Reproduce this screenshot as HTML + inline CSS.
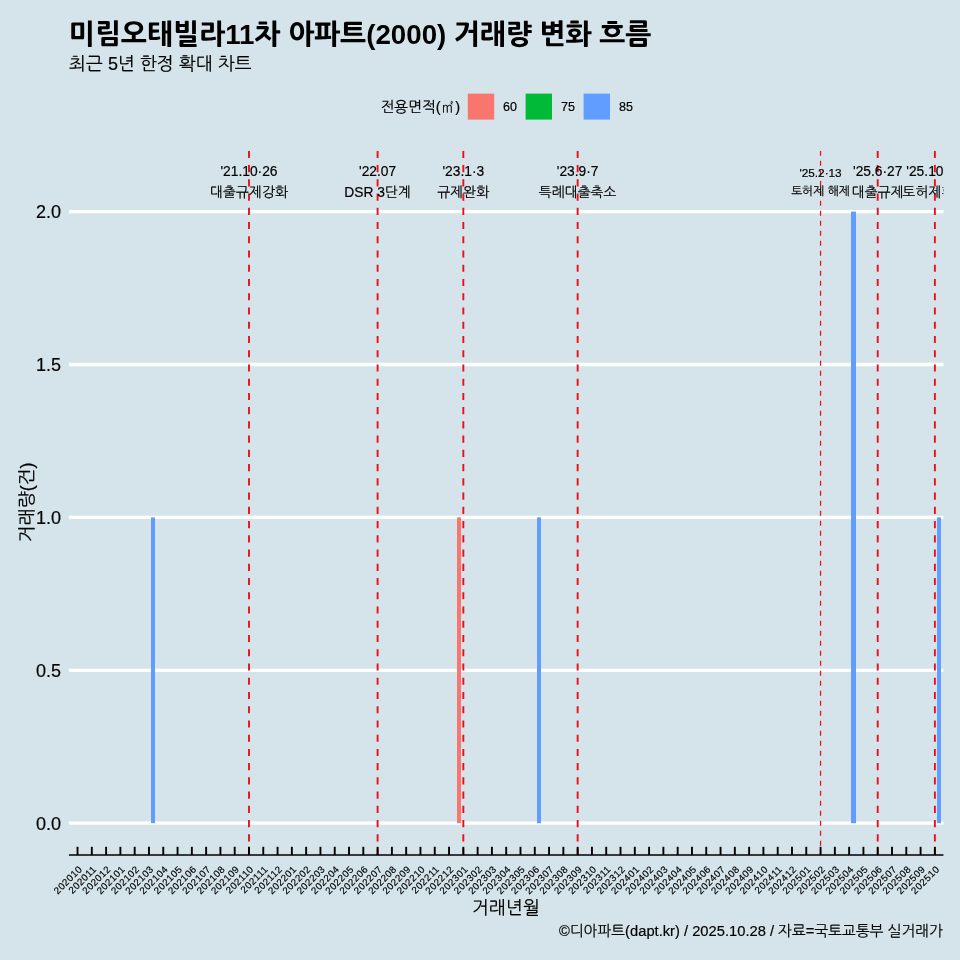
<!DOCTYPE html>
<html lang="ko"><head><meta charset="utf-8"><title>미림오태빌라11차 아파트(2000) 거래량 변화 흐름</title>
<style>html,body{margin:0;padding:0;background:#D5E4EB;}body{width:960px;height:960px;overflow:hidden;}svg{display:block;font-family:'Liberation Sans', 'NanumGothic', sans-serif;}text{fill:#000;stroke:#000;stroke-width:0.18px;}.t{stroke:none;}</style>
</head><body>
<svg width="960" height="960" viewBox="0 0 960 960">
<rect x="0" y="0" width="960" height="960" fill="#D5E4EB"/>
<defs><clipPath id="panel"><rect x="68.95" y="150.80" width="874.50" height="704.20"/></clipPath></defs>
<text x="69" y="44" font-size="27.7" font-weight="800" class="t">미림오태빌라11차 아파트(2000) 거래량 변화 흐름</text>
<text x="69" y="69.5" font-size="18.05">최근 5년 한정 확대 차트</text>
<text x="380.5" y="111.8" font-size="14.7">전용면적(<tspan font-family="NanumGothicCoding, NanumGothic, 'Noto Sans CJK KR', sans-serif">㎡</tspan>)</text>
<rect x="467.8" y="93.6" width="26.4" height="26" fill="#F8766D"/>
<text x="503.0" y="111.3" font-size="12.5">60</text>
<rect x="525.6" y="93.6" width="26.4" height="26" fill="#00BA38"/>
<text x="561.0" y="111.3" font-size="12.5">75</text>
<rect x="583.6" y="93.6" width="26.4" height="26" fill="#619CFF"/>
<text x="619.0" y="111.3" font-size="12.5">85</text>
<line x1="68.95" x2="943.45" y1="823.20" y2="823.20" stroke="#fff" stroke-width="3.3"/>
<text x="61" y="829.70" font-size="18.05" text-anchor="end">0.0</text>
<line x1="68.95" x2="943.45" y1="670.30" y2="670.30" stroke="#fff" stroke-width="3.3"/>
<text x="61" y="676.80" font-size="18.05" text-anchor="end">0.5</text>
<line x1="68.95" x2="943.45" y1="517.40" y2="517.40" stroke="#fff" stroke-width="3.3"/>
<text x="61" y="523.90" font-size="18.05" text-anchor="end">1.0</text>
<line x1="68.95" x2="943.45" y1="364.50" y2="364.50" stroke="#fff" stroke-width="3.3"/>
<text x="61" y="371.00" font-size="18.05" text-anchor="end">1.5</text>
<line x1="68.95" x2="943.45" y1="211.60" y2="211.60" stroke="#fff" stroke-width="3.3"/>
<text x="61" y="218.10" font-size="18.05" text-anchor="end">2.0</text>
<rect x="151.00" y="517.40" width="4.00" height="305.80" fill="#619CFF"/>
<rect x="457.00" y="517.40" width="4.00" height="305.80" fill="#F8766D"/>
<rect x="537.00" y="517.40" width="4.00" height="305.80" fill="#619CFF"/>
<rect x="851.00" y="211.60" width="5.00" height="611.60" fill="#619CFF"/>
<rect x="937.00" y="517.40" width="4.00" height="305.80" fill="#619CFF"/>
<g clip-path="url(#panel)">
<line x1="248.99" x2="248.99" y1="150.80" y2="855.00" stroke="#F20D14" stroke-width="1.9" stroke-dasharray="7.12 7.12"/>
<text x="248.99" y="176" font-size="13.8" text-anchor="middle">'21.10·26</text>
<text x="248.99" y="197" font-size="13.8" text-anchor="middle">대출규제강화</text>
<line x1="377.60" x2="377.60" y1="150.80" y2="855.00" stroke="#F20D14" stroke-width="1.9" stroke-dasharray="7.12 7.12"/>
<text x="377.60" y="176" font-size="13.8" text-anchor="middle">'22.07</text>
<text x="377.60" y="197" font-size="13.8" text-anchor="middle">DSR 3단계</text>
<line x1="463.33" x2="463.33" y1="150.80" y2="855.00" stroke="#F20D14" stroke-width="1.9" stroke-dasharray="7.12 7.12"/>
<text x="463.33" y="176" font-size="13.8" text-anchor="middle">'23.1·3</text>
<text x="463.33" y="197" font-size="13.8" text-anchor="middle">규제완화</text>
<line x1="577.65" x2="577.65" y1="150.80" y2="855.00" stroke="#F20D14" stroke-width="1.9" stroke-dasharray="7.12 7.12"/>
<text x="577.65" y="176" font-size="13.8" text-anchor="middle">'23.9·7</text>
<text x="577.65" y="197" font-size="13.8" text-anchor="middle">특례대출축소</text>
<line x1="820.56" x2="820.56" y1="150.80" y2="855.00" stroke="#F20D14" stroke-width="1.25" stroke-dasharray="5 5"/>
<text x="820.56" y="177.2" font-size="11.8" text-anchor="middle">'25.2·13</text>
<text x="820.56" y="194.7" font-size="11.8" text-anchor="middle">토허제 해제</text>
<line x1="877.72" x2="877.72" y1="150.80" y2="855.00" stroke="#F20D14" stroke-width="1.9" stroke-dasharray="7.12 7.12"/>
<text x="877.72" y="176" font-size="13.8" text-anchor="middle">'25.6·27</text>
<text x="877.72" y="197" font-size="13.8" text-anchor="middle">대출규제</text>
<line x1="934.88" x2="934.88" y1="150.80" y2="855.00" stroke="#F20D14" stroke-width="1.9" stroke-dasharray="7.12 7.12"/>
<text x="934.88" y="176" font-size="13.8" text-anchor="middle">'25.10·15</text>
<text x="934.88" y="197" font-size="13.8" text-anchor="middle">토허제확대</text>
</g>
<line x1="68.95" x2="943.45" y1="855" y2="855" stroke="#000" stroke-width="1.6"/>
<line x1="77.52" x2="77.52" y1="846.8" y2="855" stroke="#000" stroke-width="1.9"/>
<text transform="translate(82.82,869.7) rotate(-45)" font-size="9.72" letter-spacing="0.5" text-anchor="end" stroke="#000" stroke-width="0.25">202010</text>
<line x1="91.81" x2="91.81" y1="846.8" y2="855" stroke="#000" stroke-width="1.9"/>
<text transform="translate(97.11,869.7) rotate(-45)" font-size="9.72" letter-spacing="0.5" text-anchor="end" stroke="#000" stroke-width="0.25">202011</text>
<line x1="106.10" x2="106.10" y1="846.8" y2="855" stroke="#000" stroke-width="1.9"/>
<text transform="translate(111.40,869.7) rotate(-45)" font-size="9.72" letter-spacing="0.5" text-anchor="end" stroke="#000" stroke-width="0.25">202012</text>
<line x1="120.39" x2="120.39" y1="846.8" y2="855" stroke="#000" stroke-width="1.9"/>
<text transform="translate(125.69,869.7) rotate(-45)" font-size="9.72" letter-spacing="0.5" text-anchor="end" stroke="#000" stroke-width="0.25">202101</text>
<line x1="134.68" x2="134.68" y1="846.8" y2="855" stroke="#000" stroke-width="1.9"/>
<text transform="translate(139.98,869.7) rotate(-45)" font-size="9.72" letter-spacing="0.5" text-anchor="end" stroke="#000" stroke-width="0.25">202102</text>
<line x1="148.97" x2="148.97" y1="846.8" y2="855" stroke="#000" stroke-width="1.9"/>
<text transform="translate(154.27,869.7) rotate(-45)" font-size="9.72" letter-spacing="0.5" text-anchor="end" stroke="#000" stroke-width="0.25">202103</text>
<line x1="163.26" x2="163.26" y1="846.8" y2="855" stroke="#000" stroke-width="1.9"/>
<text transform="translate(168.56,869.7) rotate(-45)" font-size="9.72" letter-spacing="0.5" text-anchor="end" stroke="#000" stroke-width="0.25">202104</text>
<line x1="177.55" x2="177.55" y1="846.8" y2="855" stroke="#000" stroke-width="1.9"/>
<text transform="translate(182.85,869.7) rotate(-45)" font-size="9.72" letter-spacing="0.5" text-anchor="end" stroke="#000" stroke-width="0.25">202105</text>
<line x1="191.84" x2="191.84" y1="846.8" y2="855" stroke="#000" stroke-width="1.9"/>
<text transform="translate(197.14,869.7) rotate(-45)" font-size="9.72" letter-spacing="0.5" text-anchor="end" stroke="#000" stroke-width="0.25">202106</text>
<line x1="206.13" x2="206.13" y1="846.8" y2="855" stroke="#000" stroke-width="1.9"/>
<text transform="translate(211.43,869.7) rotate(-45)" font-size="9.72" letter-spacing="0.5" text-anchor="end" stroke="#000" stroke-width="0.25">202107</text>
<line x1="220.42" x2="220.42" y1="846.8" y2="855" stroke="#000" stroke-width="1.9"/>
<text transform="translate(225.72,869.7) rotate(-45)" font-size="9.72" letter-spacing="0.5" text-anchor="end" stroke="#000" stroke-width="0.25">202108</text>
<line x1="234.70" x2="234.70" y1="846.8" y2="855" stroke="#000" stroke-width="1.9"/>
<text transform="translate(240.00,869.7) rotate(-45)" font-size="9.72" letter-spacing="0.5" text-anchor="end" stroke="#000" stroke-width="0.25">202109</text>
<line x1="248.99" x2="248.99" y1="846.8" y2="855" stroke="#000" stroke-width="1.9"/>
<text transform="translate(254.29,869.7) rotate(-45)" font-size="9.72" letter-spacing="0.5" text-anchor="end" stroke="#000" stroke-width="0.25">202110</text>
<line x1="263.28" x2="263.28" y1="846.8" y2="855" stroke="#000" stroke-width="1.9"/>
<text transform="translate(268.58,869.7) rotate(-45)" font-size="9.72" letter-spacing="0.5" text-anchor="end" stroke="#000" stroke-width="0.25">202111</text>
<line x1="277.57" x2="277.57" y1="846.8" y2="855" stroke="#000" stroke-width="1.9"/>
<text transform="translate(282.87,869.7) rotate(-45)" font-size="9.72" letter-spacing="0.5" text-anchor="end" stroke="#000" stroke-width="0.25">202112</text>
<line x1="291.86" x2="291.86" y1="846.8" y2="855" stroke="#000" stroke-width="1.9"/>
<text transform="translate(297.16,869.7) rotate(-45)" font-size="9.72" letter-spacing="0.5" text-anchor="end" stroke="#000" stroke-width="0.25">202201</text>
<line x1="306.15" x2="306.15" y1="846.8" y2="855" stroke="#000" stroke-width="1.9"/>
<text transform="translate(311.45,869.7) rotate(-45)" font-size="9.72" letter-spacing="0.5" text-anchor="end" stroke="#000" stroke-width="0.25">202202</text>
<line x1="320.44" x2="320.44" y1="846.8" y2="855" stroke="#000" stroke-width="1.9"/>
<text transform="translate(325.74,869.7) rotate(-45)" font-size="9.72" letter-spacing="0.5" text-anchor="end" stroke="#000" stroke-width="0.25">202203</text>
<line x1="334.73" x2="334.73" y1="846.8" y2="855" stroke="#000" stroke-width="1.9"/>
<text transform="translate(340.03,869.7) rotate(-45)" font-size="9.72" letter-spacing="0.5" text-anchor="end" stroke="#000" stroke-width="0.25">202204</text>
<line x1="349.02" x2="349.02" y1="846.8" y2="855" stroke="#000" stroke-width="1.9"/>
<text transform="translate(354.32,869.7) rotate(-45)" font-size="9.72" letter-spacing="0.5" text-anchor="end" stroke="#000" stroke-width="0.25">202205</text>
<line x1="363.31" x2="363.31" y1="846.8" y2="855" stroke="#000" stroke-width="1.9"/>
<text transform="translate(368.61,869.7) rotate(-45)" font-size="9.72" letter-spacing="0.5" text-anchor="end" stroke="#000" stroke-width="0.25">202206</text>
<line x1="377.60" x2="377.60" y1="846.8" y2="855" stroke="#000" stroke-width="1.9"/>
<text transform="translate(382.90,869.7) rotate(-45)" font-size="9.72" letter-spacing="0.5" text-anchor="end" stroke="#000" stroke-width="0.25">202207</text>
<line x1="391.89" x2="391.89" y1="846.8" y2="855" stroke="#000" stroke-width="1.9"/>
<text transform="translate(397.19,869.7) rotate(-45)" font-size="9.72" letter-spacing="0.5" text-anchor="end" stroke="#000" stroke-width="0.25">202208</text>
<line x1="406.18" x2="406.18" y1="846.8" y2="855" stroke="#000" stroke-width="1.9"/>
<text transform="translate(411.48,869.7) rotate(-45)" font-size="9.72" letter-spacing="0.5" text-anchor="end" stroke="#000" stroke-width="0.25">202209</text>
<line x1="420.46" x2="420.46" y1="846.8" y2="855" stroke="#000" stroke-width="1.9"/>
<text transform="translate(425.76,869.7) rotate(-45)" font-size="9.72" letter-spacing="0.5" text-anchor="end" stroke="#000" stroke-width="0.25">202210</text>
<line x1="434.75" x2="434.75" y1="846.8" y2="855" stroke="#000" stroke-width="1.9"/>
<text transform="translate(440.05,869.7) rotate(-45)" font-size="9.72" letter-spacing="0.5" text-anchor="end" stroke="#000" stroke-width="0.25">202211</text>
<line x1="449.04" x2="449.04" y1="846.8" y2="855" stroke="#000" stroke-width="1.9"/>
<text transform="translate(454.34,869.7) rotate(-45)" font-size="9.72" letter-spacing="0.5" text-anchor="end" stroke="#000" stroke-width="0.25">202212</text>
<line x1="463.33" x2="463.33" y1="846.8" y2="855" stroke="#000" stroke-width="1.9"/>
<text transform="translate(468.63,869.7) rotate(-45)" font-size="9.72" letter-spacing="0.5" text-anchor="end" stroke="#000" stroke-width="0.25">202301</text>
<line x1="477.62" x2="477.62" y1="846.8" y2="855" stroke="#000" stroke-width="1.9"/>
<text transform="translate(482.92,869.7) rotate(-45)" font-size="9.72" letter-spacing="0.5" text-anchor="end" stroke="#000" stroke-width="0.25">202302</text>
<line x1="491.91" x2="491.91" y1="846.8" y2="855" stroke="#000" stroke-width="1.9"/>
<text transform="translate(497.21,869.7) rotate(-45)" font-size="9.72" letter-spacing="0.5" text-anchor="end" stroke="#000" stroke-width="0.25">202303</text>
<line x1="506.20" x2="506.20" y1="846.8" y2="855" stroke="#000" stroke-width="1.9"/>
<text transform="translate(511.50,869.7) rotate(-45)" font-size="9.72" letter-spacing="0.5" text-anchor="end" stroke="#000" stroke-width="0.25">202304</text>
<line x1="520.49" x2="520.49" y1="846.8" y2="855" stroke="#000" stroke-width="1.9"/>
<text transform="translate(525.79,869.7) rotate(-45)" font-size="9.72" letter-spacing="0.5" text-anchor="end" stroke="#000" stroke-width="0.25">202305</text>
<line x1="534.78" x2="534.78" y1="846.8" y2="855" stroke="#000" stroke-width="1.9"/>
<text transform="translate(540.08,869.7) rotate(-45)" font-size="9.72" letter-spacing="0.5" text-anchor="end" stroke="#000" stroke-width="0.25">202306</text>
<line x1="549.07" x2="549.07" y1="846.8" y2="855" stroke="#000" stroke-width="1.9"/>
<text transform="translate(554.37,869.7) rotate(-45)" font-size="9.72" letter-spacing="0.5" text-anchor="end" stroke="#000" stroke-width="0.25">202307</text>
<line x1="563.36" x2="563.36" y1="846.8" y2="855" stroke="#000" stroke-width="1.9"/>
<text transform="translate(568.66,869.7) rotate(-45)" font-size="9.72" letter-spacing="0.5" text-anchor="end" stroke="#000" stroke-width="0.25">202308</text>
<line x1="577.65" x2="577.65" y1="846.8" y2="855" stroke="#000" stroke-width="1.9"/>
<text transform="translate(582.95,869.7) rotate(-45)" font-size="9.72" letter-spacing="0.5" text-anchor="end" stroke="#000" stroke-width="0.25">202309</text>
<line x1="591.94" x2="591.94" y1="846.8" y2="855" stroke="#000" stroke-width="1.9"/>
<text transform="translate(597.24,869.7) rotate(-45)" font-size="9.72" letter-spacing="0.5" text-anchor="end" stroke="#000" stroke-width="0.25">202310</text>
<line x1="606.22" x2="606.22" y1="846.8" y2="855" stroke="#000" stroke-width="1.9"/>
<text transform="translate(611.52,869.7) rotate(-45)" font-size="9.72" letter-spacing="0.5" text-anchor="end" stroke="#000" stroke-width="0.25">202311</text>
<line x1="620.51" x2="620.51" y1="846.8" y2="855" stroke="#000" stroke-width="1.9"/>
<text transform="translate(625.81,869.7) rotate(-45)" font-size="9.72" letter-spacing="0.5" text-anchor="end" stroke="#000" stroke-width="0.25">202312</text>
<line x1="634.80" x2="634.80" y1="846.8" y2="855" stroke="#000" stroke-width="1.9"/>
<text transform="translate(640.10,869.7) rotate(-45)" font-size="9.72" letter-spacing="0.5" text-anchor="end" stroke="#000" stroke-width="0.25">202401</text>
<line x1="649.09" x2="649.09" y1="846.8" y2="855" stroke="#000" stroke-width="1.9"/>
<text transform="translate(654.39,869.7) rotate(-45)" font-size="9.72" letter-spacing="0.5" text-anchor="end" stroke="#000" stroke-width="0.25">202402</text>
<line x1="663.38" x2="663.38" y1="846.8" y2="855" stroke="#000" stroke-width="1.9"/>
<text transform="translate(668.68,869.7) rotate(-45)" font-size="9.72" letter-spacing="0.5" text-anchor="end" stroke="#000" stroke-width="0.25">202403</text>
<line x1="677.67" x2="677.67" y1="846.8" y2="855" stroke="#000" stroke-width="1.9"/>
<text transform="translate(682.97,869.7) rotate(-45)" font-size="9.72" letter-spacing="0.5" text-anchor="end" stroke="#000" stroke-width="0.25">202404</text>
<line x1="691.96" x2="691.96" y1="846.8" y2="855" stroke="#000" stroke-width="1.9"/>
<text transform="translate(697.26,869.7) rotate(-45)" font-size="9.72" letter-spacing="0.5" text-anchor="end" stroke="#000" stroke-width="0.25">202405</text>
<line x1="706.25" x2="706.25" y1="846.8" y2="855" stroke="#000" stroke-width="1.9"/>
<text transform="translate(711.55,869.7) rotate(-45)" font-size="9.72" letter-spacing="0.5" text-anchor="end" stroke="#000" stroke-width="0.25">202406</text>
<line x1="720.54" x2="720.54" y1="846.8" y2="855" stroke="#000" stroke-width="1.9"/>
<text transform="translate(725.84,869.7) rotate(-45)" font-size="9.72" letter-spacing="0.5" text-anchor="end" stroke="#000" stroke-width="0.25">202407</text>
<line x1="734.83" x2="734.83" y1="846.8" y2="855" stroke="#000" stroke-width="1.9"/>
<text transform="translate(740.13,869.7) rotate(-45)" font-size="9.72" letter-spacing="0.5" text-anchor="end" stroke="#000" stroke-width="0.25">202408</text>
<line x1="749.12" x2="749.12" y1="846.8" y2="855" stroke="#000" stroke-width="1.9"/>
<text transform="translate(754.42,869.7) rotate(-45)" font-size="9.72" letter-spacing="0.5" text-anchor="end" stroke="#000" stroke-width="0.25">202409</text>
<line x1="763.41" x2="763.41" y1="846.8" y2="855" stroke="#000" stroke-width="1.9"/>
<text transform="translate(768.71,869.7) rotate(-45)" font-size="9.72" letter-spacing="0.5" text-anchor="end" stroke="#000" stroke-width="0.25">202410</text>
<line x1="777.70" x2="777.70" y1="846.8" y2="855" stroke="#000" stroke-width="1.9"/>
<text transform="translate(783.00,869.7) rotate(-45)" font-size="9.72" letter-spacing="0.5" text-anchor="end" stroke="#000" stroke-width="0.25">202411</text>
<line x1="791.98" x2="791.98" y1="846.8" y2="855" stroke="#000" stroke-width="1.9"/>
<text transform="translate(797.28,869.7) rotate(-45)" font-size="9.72" letter-spacing="0.5" text-anchor="end" stroke="#000" stroke-width="0.25">202412</text>
<line x1="806.27" x2="806.27" y1="846.8" y2="855" stroke="#000" stroke-width="1.9"/>
<text transform="translate(811.57,869.7) rotate(-45)" font-size="9.72" letter-spacing="0.5" text-anchor="end" stroke="#000" stroke-width="0.25">202501</text>
<line x1="820.56" x2="820.56" y1="846.8" y2="855" stroke="#000" stroke-width="1.9"/>
<text transform="translate(825.86,869.7) rotate(-45)" font-size="9.72" letter-spacing="0.5" text-anchor="end" stroke="#000" stroke-width="0.25">202502</text>
<line x1="834.85" x2="834.85" y1="846.8" y2="855" stroke="#000" stroke-width="1.9"/>
<text transform="translate(840.15,869.7) rotate(-45)" font-size="9.72" letter-spacing="0.5" text-anchor="end" stroke="#000" stroke-width="0.25">202503</text>
<line x1="849.14" x2="849.14" y1="846.8" y2="855" stroke="#000" stroke-width="1.9"/>
<text transform="translate(854.44,869.7) rotate(-45)" font-size="9.72" letter-spacing="0.5" text-anchor="end" stroke="#000" stroke-width="0.25">202504</text>
<line x1="863.43" x2="863.43" y1="846.8" y2="855" stroke="#000" stroke-width="1.9"/>
<text transform="translate(868.73,869.7) rotate(-45)" font-size="9.72" letter-spacing="0.5" text-anchor="end" stroke="#000" stroke-width="0.25">202505</text>
<line x1="877.72" x2="877.72" y1="846.8" y2="855" stroke="#000" stroke-width="1.9"/>
<text transform="translate(883.02,869.7) rotate(-45)" font-size="9.72" letter-spacing="0.5" text-anchor="end" stroke="#000" stroke-width="0.25">202506</text>
<line x1="892.01" x2="892.01" y1="846.8" y2="855" stroke="#000" stroke-width="1.9"/>
<text transform="translate(897.31,869.7) rotate(-45)" font-size="9.72" letter-spacing="0.5" text-anchor="end" stroke="#000" stroke-width="0.25">202507</text>
<line x1="906.30" x2="906.30" y1="846.8" y2="855" stroke="#000" stroke-width="1.9"/>
<text transform="translate(911.60,869.7) rotate(-45)" font-size="9.72" letter-spacing="0.5" text-anchor="end" stroke="#000" stroke-width="0.25">202508</text>
<line x1="920.59" x2="920.59" y1="846.8" y2="855" stroke="#000" stroke-width="1.9"/>
<text transform="translate(925.89,869.7) rotate(-45)" font-size="9.72" letter-spacing="0.5" text-anchor="end" stroke="#000" stroke-width="0.25">202509</text>
<line x1="934.88" x2="934.88" y1="846.8" y2="855" stroke="#000" stroke-width="1.9"/>
<text transform="translate(940.18,869.7) rotate(-45)" font-size="9.72" letter-spacing="0.5" text-anchor="end" stroke="#000" stroke-width="0.25">202510</text>
<text x="506" y="913.7" font-size="18.05" text-anchor="middle">거래년월</text>
<text transform="translate(32.9,502.3) rotate(-90)" font-size="18.05" text-anchor="middle">거래량(건)</text>
<text x="943" y="936" font-size="14.72" text-anchor="end">©디아파트(dapt.kr) / 2025.10.28 / 자료=국토교통부 실거래가</text>
</svg></body></html>
